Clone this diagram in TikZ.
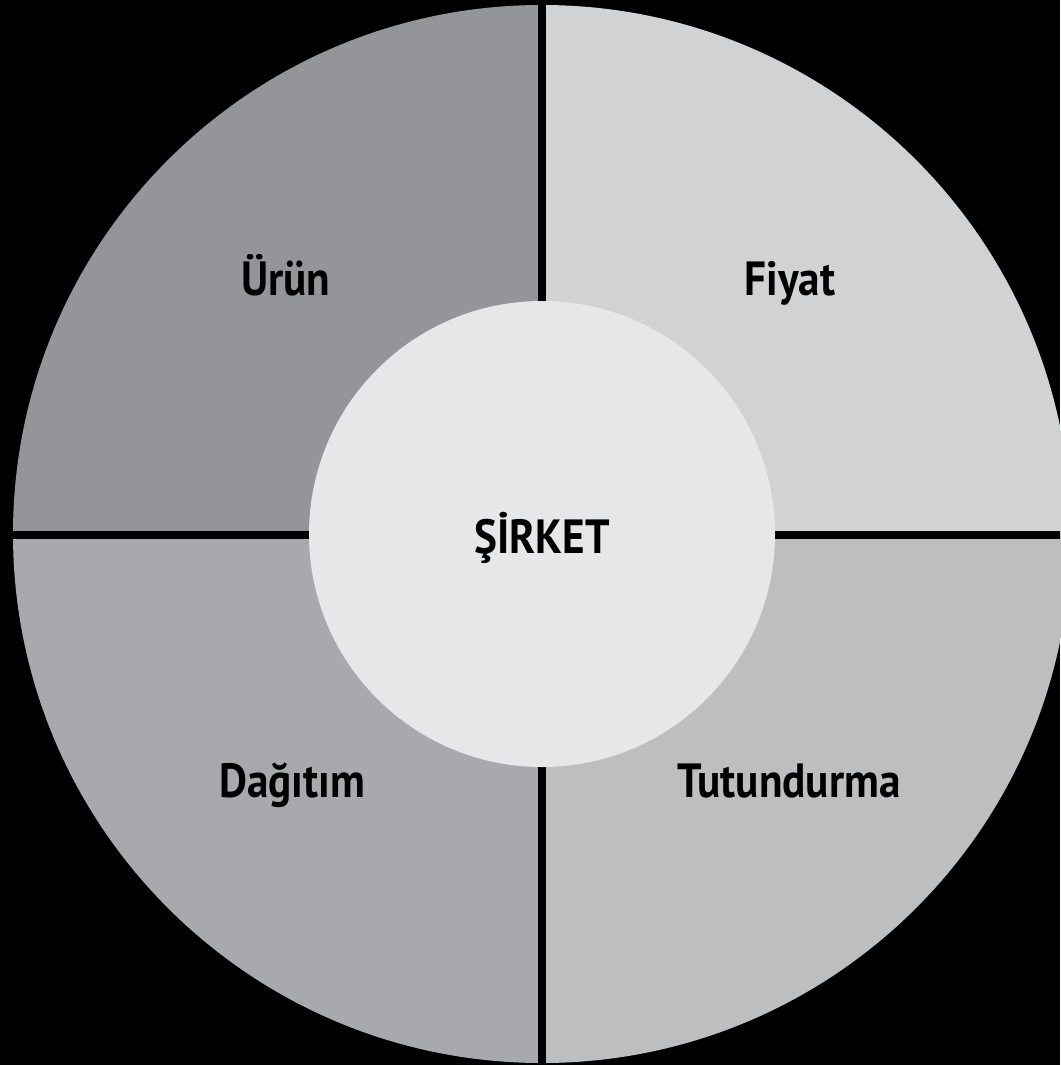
\documentclass[tikz,border=0pt]{standalone}
\usepackage{fontspec}
\setmainfont{PT Sans}[FakeStretch=0.9]
\definecolor{qtl}{HTML}{939598}
\definecolor{qtr}{HTML}{D1D2D4}
\definecolor{qbl}{HTML}{A7A9AC}
\definecolor{qbr}{HTML}{BCBEC0}
\definecolor{inner}{HTML}{E6E7E8}
\tikzset{
  lbl/.style={font=\fontsize{48}{48}\selectfont\bfseries, text=black, inner sep=0pt, anchor=base},
  sep/.style={draw=black, line width=7.5pt},
}
\begin{document}
\begin{tikzpicture}[x=1pt,y=-1pt]
\fill[black] (0,0) rectangle (1060,1065);
\useasboundingbox (0,0) rectangle (1060,1065);
\coordinate (C) at (542,534);
\begin{scope}
  \clip (C) circle[radius=529];
  \fill[qtl] (0,0) rectangle (542,534);
  \fill[qtr] (542,0) rectangle (1080,534);
  \fill[qbl] (0,534) rectangle (542,1080);
  \fill[qbr] (542,534) rectangle (1080,1080);
\end{scope}
\coordinate (top) at (542,0);
\coordinate (bot) at (542,1070);
\coordinate (lft) at (0,535);
\coordinate (rgt) at (1060,535);
\coordinate (itop) at (542,310);
\coordinate (ibot) at (542,760);
\coordinate (ilft) at (320,535);
\coordinate (irgt) at (765,535);
\draw[sep] (top) -- (itop);
\draw[sep] (bot) -- (ibot);
\draw[sep] (lft) -- (ilft);
\draw[sep] (rgt) -- (irgt);
\fill[inner] (C) circle[radius=233];
\node[lbl] (urun) at (286,295) {Ürün};
\node[lbl] (fiyat) at (790,295) {Fiyat};
\node[lbl] (dagitim) at (292,797) {Dağıtım};
\node[lbl] (tutundurma) at (789,797) {Tutundurma};
\node[lbl] (sirket) at (542,553) {ŞİRKET};
\end{tikzpicture}
\end{document}
